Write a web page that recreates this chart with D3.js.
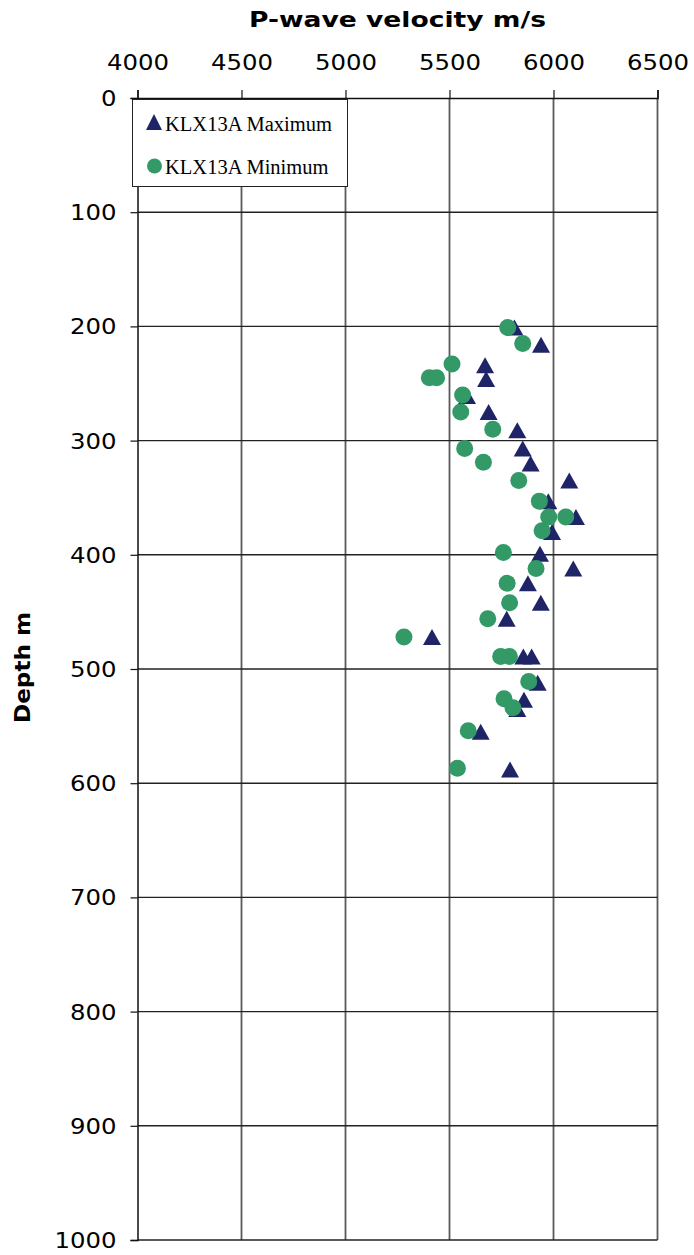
<!DOCTYPE html>
<html>
<head>
<meta charset="utf-8">
<script src="https://cdn.jsdelivr.net/npm/d3@7"></script>
<style>
  body { margin: 0; background: #fff; }
</style>
</head>
<body>
<div id="chart"></div>
<script>
// Maximum velocities (triangles)
const maxVelocity = [5812, 5940, 5671, 5676, 5584, 5688, 5826, 5852, 5890, 6076, 5975, 6108, 5993,
	5935, 6095, 5877, 5939, 5775, 5416, 5855, 5895, 5924, 5858, 5826, 5650, 5791];
const maxDepth = [201, 216, 234, 246, 261, 275, 291, 307, 320, 335, 353, 367, 380,
	399, 412, 425, 442, 456, 472, 489, 489, 512, 527, 535, 555, 588];

// Minimum velocities (circles)
const minVelocity = [5780, 5852, 5512, 5403, 5438, 5563, 5554, 5708, 5573, 5663, 5833, 5932, 5977, 6059,
	5945, 5759, 5916, 5777, 5789, 5684, 5281, 5746, 5788, 5881, 5762, 5805, 5590, 5538];
const minDepth = [201, 215, 233, 245, 245, 260, 275, 290, 307, 319, 335, 353, 367, 367,
	379, 398, 412, 425, 442, 456, 472, 489, 489, 511, 526, 534, 554, 587];

const seriesNames = ["KLX13A Maximum", "KLX13A Minimum"];
const xTicks = [4000, 4500, 5000, 5500, 6000, 6500];
const yTicks = [0, 100, 200, 300, 400, 500, 600, 700, 800, 900, 1000];

const width = 694;
const height = 1255;
const plotLeft = 137.5;
const plotRight = 657.5;
const plotTop = 98;
const plotBottom = 1240;

const navy = '#1f2467';
const green = '#339966';
const sansFont = 'DejaVu Sans, Verdana, sans-serif';

const svg = d3.select('#chart')
	.append('svg')
	.attr('width', width)
	.attr('height', height);

const xScale = d3.scaleLinear().domain([4000, 6500]).range([plotLeft, plotRight]);
const yScale = d3.scaleLinear().domain([0, 1000]).range([plotTop, plotBottom]);

// gridlines
svg.append('g')
	.selectAll('line')
	.data(xTicks.slice(1))
	.enter()
	.append('line')
	.attr('x1', (d) => xScale(d)).attr('x2', (d) => xScale(d))
	.attr('y1', plotTop).attr('y2', plotBottom)
	.attr('stroke', '#5a5a5a')
	.attr('stroke-width', 1.8);

svg.append('g')
	.selectAll('line')
	.data(yTicks.slice(1))
	.enter()
	.append('line')
	.attr('x1', plotLeft).attr('x2', plotRight)
	.attr('y1', (d) => yScale(d)).attr('y2', (d) => yScale(d))
	.attr('stroke', '#222')
	.attr('stroke-width', 1.4);

// x axis on top
const xAxis = svg.append('g')
	.attr('transform', `translate(0, ${plotTop})`)
	.call(d3.axisTop(xScale).tickValues(xTicks).tickSize(8).tickPadding(20).tickFormat(d3.format('d')));

// y axis on left
const yAxis = svg.append('g')
	.attr('transform', `translate(${plotLeft}, 0)`)
	.call(d3.axisLeft(yScale).tickValues(yTicks).tickSize(7).tickPadding(14).tickFormat(d3.format('d')));

// digits are drawn a bit wider than DejaVu's, like the original Verdana
const digitWidth = 15.5;
[xAxis, yAxis].forEach((ax) => {
	ax.selectAll('path').attr('stroke', '#111').attr('stroke-width', 1.5);
	ax.selectAll('line').attr('stroke', '#111').attr('stroke-width', 1.2);
	ax.selectAll('text')
		.attr('font-family', sansFont)
		.attr('font-size', 21)
		.attr('textLength', function() { return this.textContent.length * digitWidth; })
		.attr('lengthAdjust', 'spacingAndGlyphs')
		.attr('fill', '#000');
});
yAxis.selectAll('text').attr('dy', '0.36em');

// axis titles
svg.append('text')
	.attr('x', 397.5)
	.attr('y', 27)
	.attr('text-anchor', 'middle')
	.attr('font-family', sansFont)
	.attr('font-weight', 'bold')
	.attr('font-size', 21)
	.attr('textLength', 297)
	.attr('lengthAdjust', 'spacingAndGlyphs')
	.text('P-wave velocity m/s');

svg.append('text')
	.attr('transform', 'translate(30, 667.5) rotate(-90)')
	.attr('text-anchor', 'middle')
	.attr('font-family', sansFont)
	.attr('font-weight', 'bold')
	.attr('font-size', 21)
	.attr('textLength', 111)
	.attr('lengthAdjust', 'spacingAndGlyphs')
	.text('Depth m');

// triangle marker
const triW = 18, triH = 16;
const triPath = `M0,${-triH / 2}L${triW / 2},${triH / 2}L${-triW / 2},${triH / 2}Z`;

// maximum series
svg.append('g')
	.selectAll('path')
	.data(maxVelocity.map((v, i) => ({v: v, d: maxDepth[i]})))
	.enter()
	.append('path')
	.attr('d', triPath)
	.attr('transform', (p) => `translate(${xScale(p.v)}, ${yScale(p.d)})`)
	.attr('fill', navy);

// minimum series
svg.append('g')
	.selectAll('circle')
	.data(minVelocity.map((v, i) => ({v: v, d: minDepth[i]})))
	.enter()
	.append('circle')
	.attr('cx', (p) => xScale(p.v))
	.attr('cy', (p) => yScale(p.d))
	.attr('r', 8.5)
	.attr('fill', green);

// legend
const legend = svg.append('g');
legend.append('rect')
	.attr('x', 132.5).attr('y', 99.5)
	.attr('width', 215).attr('height', 87)
	.attr('fill', '#fff')
	.attr('stroke', '#222')
	.attr('stroke-width', 1);

legend.append('path')
	.attr('d', `M0,-8L8,8L-8,8Z`)
	.attr('transform', 'translate(154, 122)')
	.attr('fill', navy);
legend.append('circle')
	.attr('cx', 154.5).attr('cy', 166).attr('r', 7.5)
	.attr('fill', green);

legend.selectAll('text')
	.data(seriesNames)
	.enter()
	.append('text')
	.attr('x', 165)
	.attr('y', (d, i) => 130.5 + i * 43.5)
	.attr('font-family', 'Liberation Serif, Times New Roman, serif')
	.attr('font-size', 20.5)
	.text((d) => d);
</script>
</body>
</html>
